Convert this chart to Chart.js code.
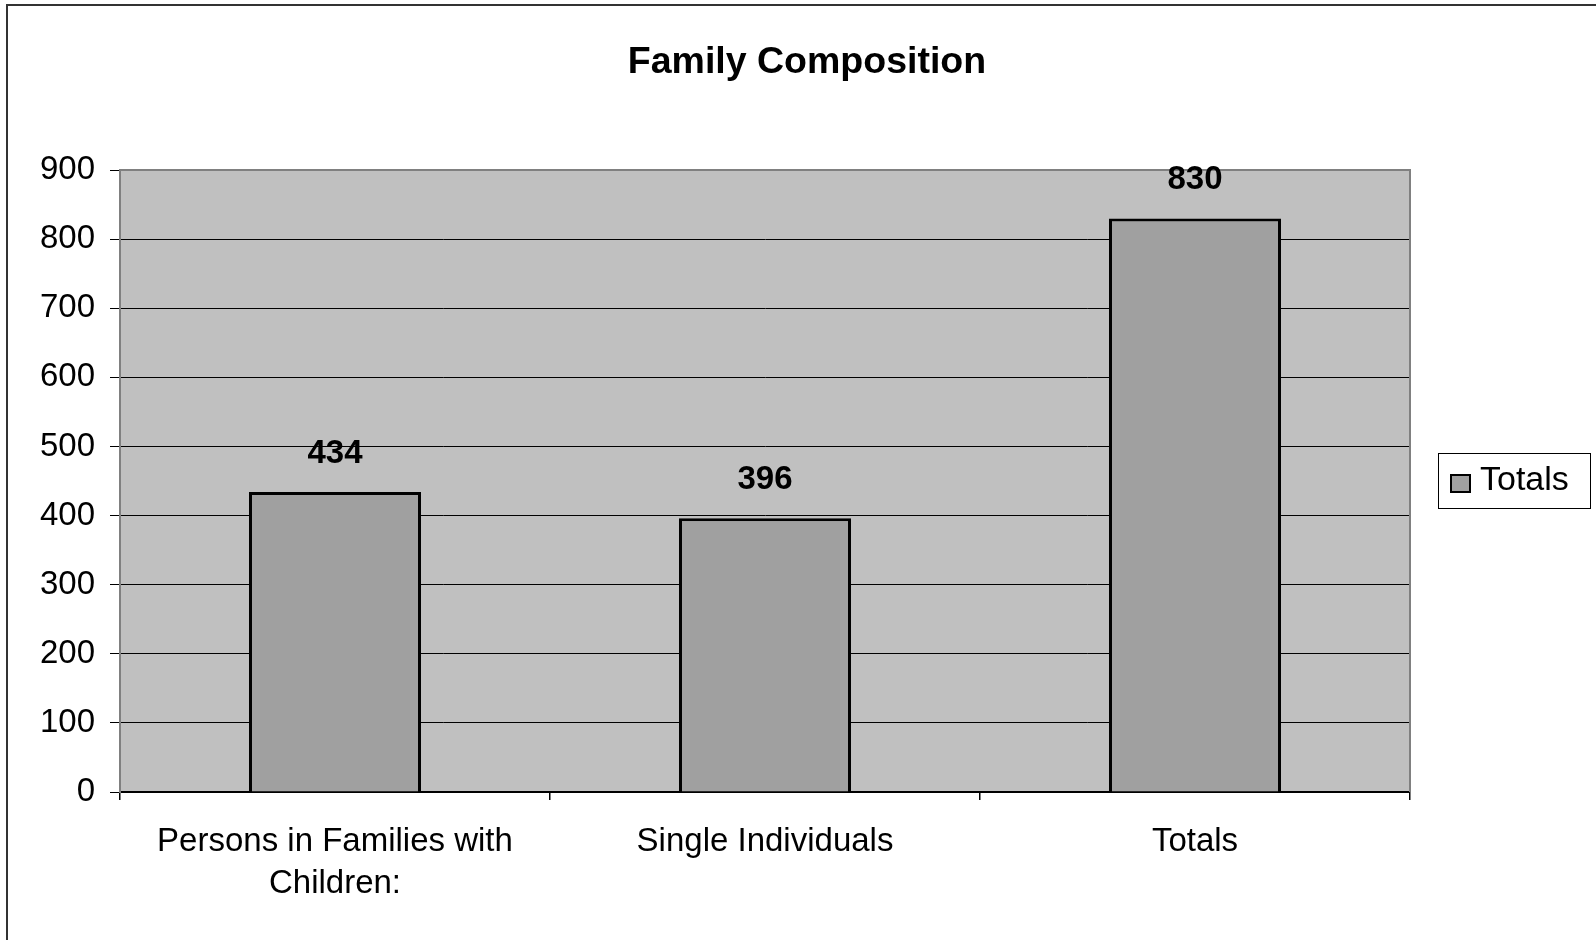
<!DOCTYPE html>
<html>
<head>
<meta charset="utf-8">
<script src="https://cdn.jsdelivr.net/npm/chart.js@4"></script>
<style>
  html, body { margin: 0; padding: 0; background: #ffffff; }
  canvas { display: block; }
</style>
</head>
<body>
<canvas id="c" width="1596" height="940"></canvas>
<script>
const categories = [["Persons in Families with", "Children:"], "Single Individuals", "Totals"];
const seriesName = "Totals";
const values = [434, 396, 830];
const yTicks = [0, 100, 200, 300, 400, 500, 600, 700, 800, 900];
const chartTitle = "Family Composition";

const FONT = "'Liberation Sans', Arial, sans-serif";

const plotBackground = {
  id: 'plotBackground',
  beforeDraw(chart) {
    const { ctx, chartArea: a } = chart;
    ctx.save();
    ctx.fillStyle = '#ffffff';
    ctx.fillRect(0, 0, chart.width, chart.height);
    ctx.fillStyle = '#c0c0c0';
    ctx.fillRect(a.left, a.top, a.right - a.left, a.bottom - a.top);
    ctx.restore();
  },
  beforeDatasetsDraw(chart) {
    const { ctx, chartArea: a } = chart;
    ctx.save();
    ctx.strokeStyle = '#808080';
    ctx.lineWidth = 2;
    ctx.beginPath();
    ctx.moveTo(a.left, a.bottom);
    ctx.lineTo(a.left, a.top);
    ctx.lineTo(a.right, a.top);
    ctx.lineTo(a.right, a.bottom);
    ctx.stroke();
    ctx.restore();
  }
};

const valueLabels = {
  id: 'valueLabels',
  afterDatasetsDraw(chart) {
    const { ctx } = chart;
    const meta = chart.getDatasetMeta(0);
    const data = chart.data.datasets[0].data;
    ctx.save();
    ctx.font = "bold 33px " + FONT;
    ctx.fillStyle = '#000000';
    ctx.textAlign = 'center';
    ctx.textBaseline = 'middle';
    meta.data.forEach((bar, i) => {
      ctx.fillText(String(data[i]), bar.x, bar.y - 38);
    });
    ctx.restore();
  }
};

const legendBox = {
  id: 'legendBox',
  afterDraw(chart) {
    const { ctx, chartArea: a } = chart;
    const ds = chart.data.datasets[0];
    const cy = (a.top + a.bottom) / 2;
    const left = 1438, right = 1591, top = cy - 28, bottom = cy + 28;
    ctx.save();
    ctx.fillStyle = '#ffffff';
    ctx.fillRect(left, top, right - left, bottom - top);
    ctx.strokeStyle = '#000000';
    ctx.lineWidth = 1;
    ctx.strokeRect(left + 0.5, top + 0.5, right - left - 1, bottom - top - 1);
    ctx.fillStyle = ds.backgroundColor;
    ctx.fillRect(1451, cy - 6, 19, 17);
    ctx.lineWidth = 2;
    ctx.strokeStyle = '#000000';
    ctx.strokeRect(1451, cy - 6, 19, 17);
    ctx.fillStyle = '#000000';
    ctx.font = "34px " + FONT;
    ctx.textAlign = 'left';
    ctx.textBaseline = 'middle';
    ctx.fillText(ds.label, 1480, cy);
    // outer frame (top and left edges)
    ctx.strokeStyle = '#333333';
    ctx.lineWidth = 2;
    ctx.beginPath();
    ctx.moveTo(7, chart.height);
    ctx.lineTo(7, 5);
    ctx.lineTo(chart.width, 5);
    ctx.stroke();
    ctx.restore();
  }
};

new Chart(document.getElementById('c'), {
  type: 'bar',
  data: {
    labels: categories,
    datasets: [{
      label: seriesName,
      data: values,
      backgroundColor: '#a0a0a0',
      borderColor: '#000000',
      borderWidth: 3,
      barPercentage: 0.4,
      categoryPercentage: 1.0
    }]
  },
  options: {
    responsive: false,
    animation: false,
    devicePixelRatio: 1,
    layout: { padding: { left: 18, right: 0, top: 0, bottom: 0 } },
    plugins: {
      legend: { display: false },
      tooltip: { enabled: false },
      title: {
        display: true,
        text: chartTitle,
        color: '#000000',
        font: { family: FONT, size: 37.5, weight: 'bold', lineHeight: 1.2 },
        padding: { top: 40, bottom: 85 }
      }
    },
    scales: {
      x: {
        offset: true,
        grid: {
          display: true,
          offset: true,
          drawOnChartArea: false,
          drawTicks: true,
          tickLength: 8,
          color: '#000000',
          lineWidth: 1.5
        },
        border: { display: true, color: '#000000', width: 2 },
        ticks: {
          color: '#000000',
          font: { family: FONT, size: 33, lineHeight: 1.3 },
          padding: 20,
          maxRotation: 0,
          autoSkip: false
        },
        afterFit(scale) { scale.height = 148; }
      },
      y: {
        min: yTicks[0],
        max: yTicks[yTicks.length - 1],
        afterBuildTicks(scale) { scale.ticks = yTicks.map(v => ({ value: v })); },
        grid: {
          display: true,
          drawTicks: true,
          tickLength: 10,
          color: '#000000',
          lineWidth: 1
        },
        border: { display: true, color: '#808080', width: 2 },
        ticks: {
          color: '#000000',
          font: { family: FONT, size: 33 },
          padding: 15
        },
        afterFit(scale) { scale.width = 102; }
      },
      legendSpace: {
        type: 'linear',
        position: 'right',
        display: true,
        grid: { display: false, drawOnChartArea: false, drawTicks: false },
        border: { display: false },
        ticks: { display: false },
        afterFit(scale) { scale.width = 186; }
      }
    }
  },
  plugins: [plotBackground, valueLabels, legendBox]
});
</script>
</body>
</html>
